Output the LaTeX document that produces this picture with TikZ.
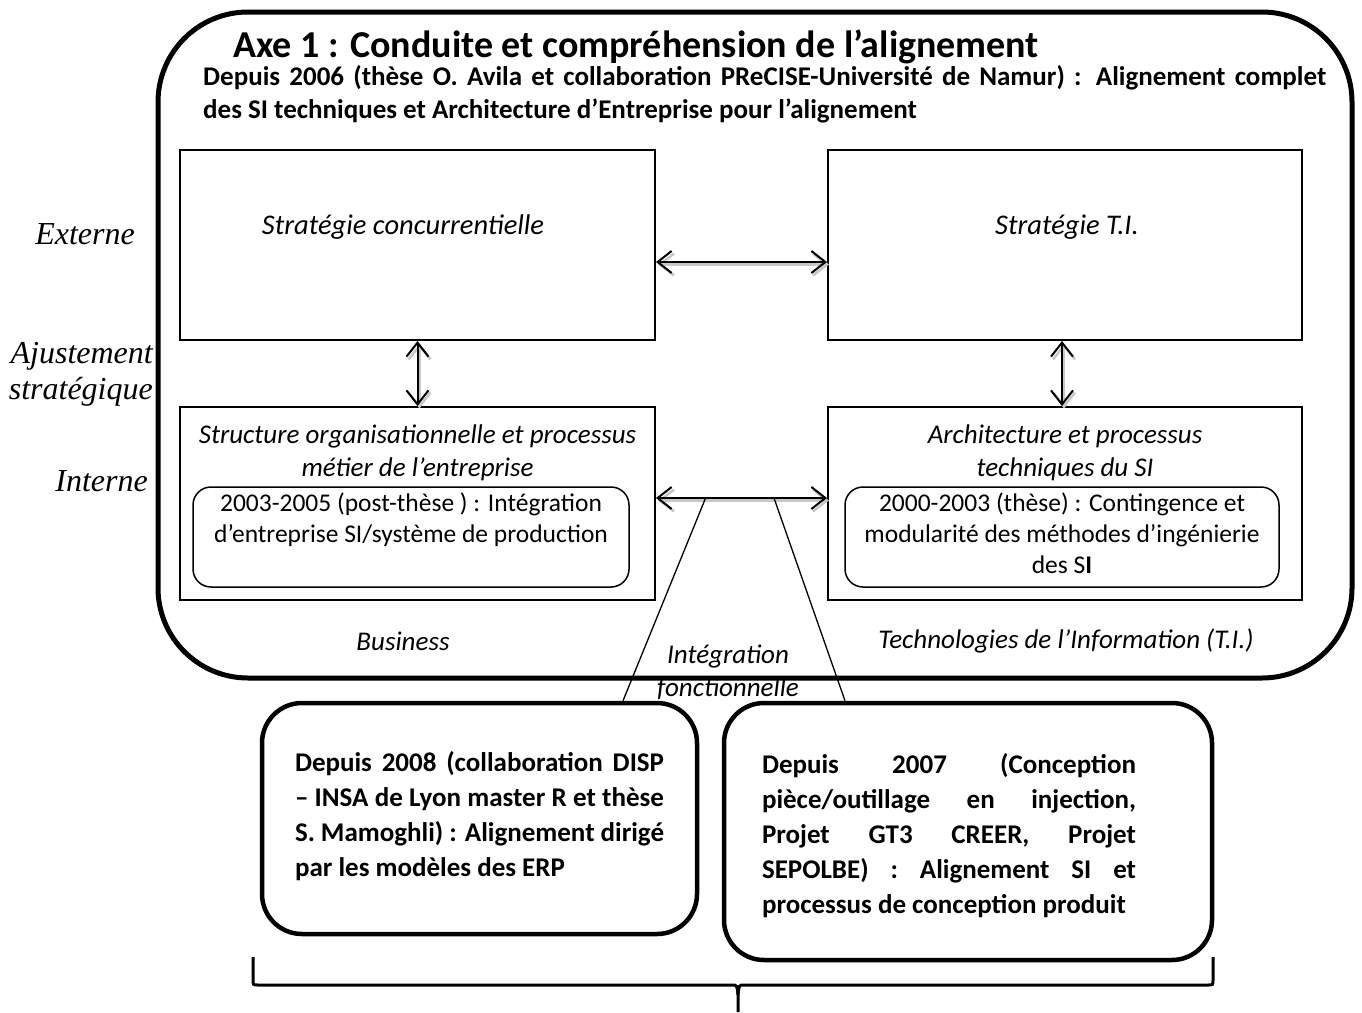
\documentclass[tikz,border=0pt]{standalone}
\usepackage{fontspec}
\setmainfont{Carlito}
\newfontfamily\timesf{Liberation Serif}
\usetikzlibrary{arrows.meta}
\begin{document}
\begin{tikzpicture}[x=1pt,y=-1pt,
  panel/.style={draw, line width=2, inner sep=0, minimum width=475, minimum height=190},
  subpanel/.style={draw, line width=1.5, rounded corners=18, inner sep=0, minimum width=436, minimum height=100},
  project/.style={draw, line width=4.5, rounded corners=40, inner sep=0},
  boxtext/.style={font=\fontsize{25.5}{31}\selectfont, align=center, inner sep=0},
  sidelabel/.style={font=\timesf\itshape\fontsize{32}{36}\selectfont, align=right, inner sep=0},
  biarrow/.style={line width=2, {Straight Barb[length=14,width=22]}-{Straight Barb[length=14,width=22]}},
  arrowshade/.style={draw=black!22, line width=2.5, {Straight Barb[length=14,width=22]}-{Straight Barb[length=14,width=22]}, transform canvas={shift={(2pt,-2.5pt)}}},
  justtext/.style={font=\bfseries\fontsize{27}{35}\selectfont, align=justify, inner sep=0}
]
\useasboundingbox (0,0) rectangle (1362,1012);

% outer frame of axis 1
\draw[line width=5, rounded corners=90] (158,12) rectangle (1352,678);

% header
\node[anchor=base west, inner sep=0, font=\bfseries\fontsize{38}{42}\selectfont] (title) at (233,57) {Axe 1 : Conduite et compréhension de l’alignement};
\node[anchor=north west, text width=1123, justtext, font=\bfseries\fontsize{27}{33}\selectfont] (intro) at (203,65)
  {\hyphenpenalty=10000 Depuis 2006 (thèse O. Avila et collaboration PReCISE-Université de Namur) : Alignement complet\linebreak des SI techniques et Architecture d’Entreprise pour l’alignement};

% four quadrants
\node[panel] (strat) at (417.5,245) {};
\node[panel, minimum width=474] (stratti) at (1065,245) {};
\node[panel, minimum height=193] (struct) at (417.5,503.5) {};
\node[panel, minimum width=474, minimum height=193] (archi) at (1065,503.5) {};

\node[boxtext, font=\itshape\fontsize{28.5}{30}\selectfont] (tstrat) at (403,227) {Stratégie concurrentielle};
\node[boxtext, font=\itshape\fontsize{28.5}{30}\selectfont] (tstratti) at (1067,227) {Stratégie T.I.};
\node[boxtext, font=\itshape\fontsize{27}{33}\selectfont, anchor=north] (tstruct) at (417.5,425) {Structure organisationnelle et processus\\métier de l’entreprise};
\node[boxtext, font=\itshape\fontsize{27}{33}\selectfont, anchor=north] (tarchi) at (1065,425) {Architecture et processus\\techniques du SI};

% earlier works inside the internal quadrants
\node[subpanel] (postthese) at (411,537) {};
\node[subpanel, minimum width=434] (these) at (1062,537) {};
\node[boxtext, anchor=north] (tpost) at (411,493) {2003-2005 (post-thèse ) : Intégration\\d’entreprise SI/système de production};
\node[boxtext, anchor=north] (tthese) at (1062,493) {2000-2003 (thèse) : Contingence et\\modularité des méthodes d’ingénierie\\des S\textbf{I}};

% alignment arrows
\draw[arrowshade] ([yshift=-17pt]strat.east) -- ([yshift=-17pt]stratti.west);
\draw[biarrow] ([yshift=-17pt]strat.east) -- ([yshift=-17pt]stratti.west);
\draw[arrowshade] ([yshift=5.5pt]struct.east) -- ([yshift=5.5pt]archi.west);
\draw[biarrow] ([yshift=5.5pt]struct.east) -- ([yshift=5.5pt]archi.west) coordinate[pos=0.29] (fl) coordinate[pos=0.69] (fr);
\draw[arrowshade] (strat.south) -- (struct.north);
\draw[biarrow] (strat.south) -- (struct.north);
\draw[arrowshade] ([xshift=-3pt]stratti.south) -- ([xshift=-3pt]archi.north);
\draw[biarrow] ([xshift=-3pt]stratti.south) -- ([xshift=-3pt]archi.north);

% side and bottom labels
\node[sidelabel, anchor=east] (ext) at (135,234) {Externe};
\node[sidelabel, anchor=east] (ajust) at (153,374) {Ajustement\\stratégique};
\node[sidelabel, anchor=east] (int) at (148,481) {Interne};
\node[boxtext, font=\itshape\fontsize{27}{30}\selectfont] (bus) at (403,641) {Business};
\node[boxtext, font=\itshape\fontsize{27}{30}\selectfont] (ti) at (1066,641) {Technologies de l’Information (T.I.)};
\node[boxtext, font=\itshape\fontsize{27}{33}\selectfont] (integ) at (728,672) {Intégration\\fonctionnelle};

% current projects
\node[project, minimum width=435, minimum height=231] (erp) at (479.5,818.5) {};
\node[project, minimum width=488, minimum height=257] (conc) at (968,831.5) {};
\node[justtext, text width=369, anchor=north] (terp) at (479.5,751)
  {\hyphenpenalty=10000 Depuis 2008 (collaboration DISP\linebreak – INSA de Lyon master R et thèse\linebreak S. Mamoghli) : Alignement dirigé\linebreak par les modèles des ERP};
\node[justtext, text width=374, anchor=north] (tconc) at (949,753)
  {\hyphenpenalty=10000 Depuis 2007 (Conception\linebreak pièce/outillage en injection,\linebreak Projet GT3 CREER, Projet\linebreak SEPOLBE) : Alignement SI et\linebreak processus de conception produit};

% functional integration fan
\draw[line width=1.3] (fl) -- (erp.north -| 623,0);
\draw[line width=1.3] (fr) -- (conc.north -| 845,0);

% brace grouping both projects
\draw[line width=3] (253,957) -- (253,980) .. controls (253,985) .. (258,985) -- (732,985)
  .. controls (737,985) .. (738,995) -- (738,1012);
\draw[line width=3] (1213,957) -- (1213,980) .. controls (1213,985) .. (1208,985) -- (744,985)
  .. controls (739,985) .. (738,995);
\end{tikzpicture}
\end{document}
